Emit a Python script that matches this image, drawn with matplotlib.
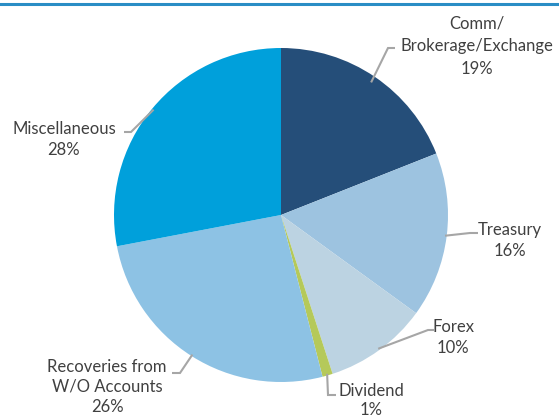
import numpy as np
import matplotlib
matplotlib.use("Agg")
import matplotlib.pyplot as plt
from matplotlib.lines import Line2D

categories = ["Comm/\nBrokerage/Exchange", "Treasury", "Forex", "Dividend",
              "Recoveries from\nW/O Accounts", "Miscellaneous"]
values = [19, 16, 10, 1, 26, 28]
colors = ["#254E79", "#9DC3E0", "#BCD3E2", "#B5C95A", "#8DC2E4", "#00A0DB"]

W, H = 559, 417
fig = plt.figure(figsize=(W / 100, H / 100), dpi=100)
ax = fig.add_axes([0, 0, 1, 1])

cx, cy, R = 281, H - 215, 167
wedges, _ = ax.pie(values, colors=colors, startangle=90, counterclock=False,
                   center=(cx, cy), radius=R,
                   wedgeprops=dict(linewidth=0))
ax.set_xlim(0, W)
ax.set_ylim(0, H)
ax.set_aspect("equal")
ax.axis("off")

# label layout: (text x, text top y in px-from-top, elbow point, end point)
layout = [
    dict(tx=477, ty=15, elbow=(388, 48), end=(395, 48), r=0.96, ls=1.55),
    dict(tx=510, ty=222, elbow=(470, 233), end=(478, 233), r=0.99, ls=1.35),
    dict(tx=453, ty=319, elbow=(428, 330), end=(434, 330), r=0.99, ls=1.35),
    dict(tx=371, ty=383, elbow=(328, 395), end=(336, 395), r=0.99, ls=1.2),
    dict(tx=107, ty=359, elbow=(180, 373), end=(172, 373), r=0.99, ls=1.3),
    dict(tx=64, ty=121, elbow=(131, 132), end=(124, 132), r=0.99, ls=1.35),
]

gray = "#A6A6A6"
tcol = "#404040"
for w, cat, v, L in zip(wedges, categories, values, layout):
    ang = np.deg2rad((w.theta1 + w.theta2) / 2)
    sx = cx + R * L["r"] * np.cos(ang)
    sy = cy + R * L["r"] * np.sin(ang)
    ex, ey = L["elbow"]
    fx, fy = L["end"]
    ax.plot([sx, ex, fx], [sy, H - ey, H - fy], color=gray, lw=1.5,
            solid_capstyle="butt", solid_joinstyle="miter")
    ax.text(L["tx"], H - L["ty"], f"{cat}\n{v}%", ha="center", va="top",
            fontsize=12, color=tcol, family="Lato", linespacing=L["ls"])

fig.add_artist(Line2D([0, 1], [1 - 4 / H, 1 - 4 / H], color="#2A8DC5", lw=2.2,
                      transform=fig.transFigure))

fig.savefig("out.png", dpi=100)
